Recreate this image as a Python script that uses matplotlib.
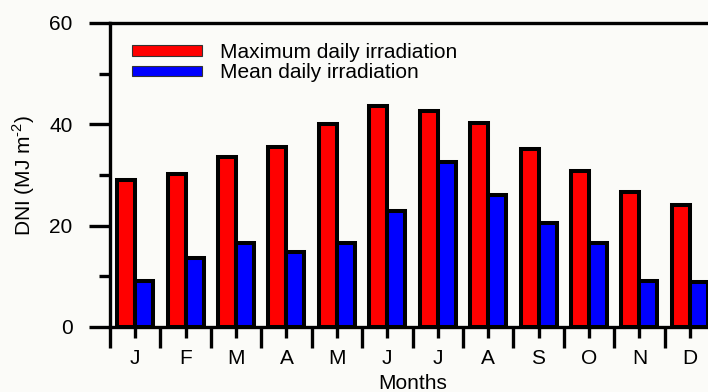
import matplotlib
matplotlib.use("Agg")
from matplotlib import pyplot as plt
from matplotlib.patches import Patch
import numpy as np

# ------------ DATA
months = ["J", "F", "M", "A", "M", "J", "J", "A", "S", "O", "N", "D"]
max_daily = [29.0, 30.1, 33.6, 35.6, 40.0, 43.7, 42.7, 40.3, 35.1, 30.8, 26.6, 24.1]
mean_daily = [9.1, 13.6, 16.5, 14.9, 16.5, 22.8, 32.5, 26.0, 20.5, 16.6, 9.1, 8.8]

# ------------ PLOT
plt.rcParams['font.family'] = ['Liberation Sans', 'DejaVu Sans']
plt.rcParams['font.size'] = 15
plt.rcParams['mathtext.fontset'] = 'custom'
plt.rcParams['mathtext.rm'] = 'Liberation Sans'

fig = plt.figure(figsize=(7.08, 3.92), dpi=100)
fig.patch.set_facecolor('#fbfbf8')
ax = fig.add_axes([110 / 708, 65 / 392, 605 / 708, 304 / 392])
ax.set_facecolor('#fbfbf8')

x = np.arange(len(months))
w = 0.357
ax.bar(x - w / 2, max_daily, width=w, color='#ff0000', edgecolor='black', linewidth=2.9,
       zorder=2)
ax.bar(x + w / 2, mean_daily, width=w, color='#0000ff', edgecolor='black', linewidth=2.9,
       zorder=2)

ax.set_xlim(-0.5, 11.5)
ax.set_ylim(0, 60)

# spines
for s in ['left', 'bottom', 'top']:
    ax.spines[s].set_linewidth(2.4)
ax.spines['right'].set_visible(False)

# y ticks
ax.set_yticks([0, 20, 40, 60])
ax.set_yticks([10, 30, 50], minor=True)
ax.tick_params(axis='y', which='major', length=15, width=2.4, pad=12)
ax.tick_params(axis='y', which='minor', length=8, width=2.4)

# x ticks: labels at centres, long ticks at month boundaries
ax.set_xticks(x)
ax.set_xticklabels(months)
ax.set_xticks(np.arange(-0.5, 12, 1), minor=True)
ax.tick_params(axis='x', which='major', length=8, width=2.4, pad=8)
ax.tick_params(axis='x', which='minor', length=15, width=2.4)
ax.tick_params(top=False, right=False, which='both')

ax.set_xlabel('Months', labelpad=4)
ax.set_ylabel('DNI (MJ m$^{\\mathrm{\u20102}}$)', labelpad=9)

handles = [Patch(facecolor='#ff0000', edgecolor='#333333', linewidth=0.8),
           Patch(facecolor='#0000ff', edgecolor='#333333', linewidth=0.8)]
ax.legend(handles, ['Maximum daily irradiation', 'Mean daily irradiation'],
          loc='upper left', bbox_to_anchor=(132 / 708, 1 - 43 / 392),
          bbox_transform=fig.transFigure, frameon=False, borderpad=0,
          borderaxespad=0, handlelength=3.35, handleheight=0.37,
          handletextpad=0.85, labelspacing=0.05)

fig.savefig('out.png', dpi=100, facecolor=fig.get_facecolor())
